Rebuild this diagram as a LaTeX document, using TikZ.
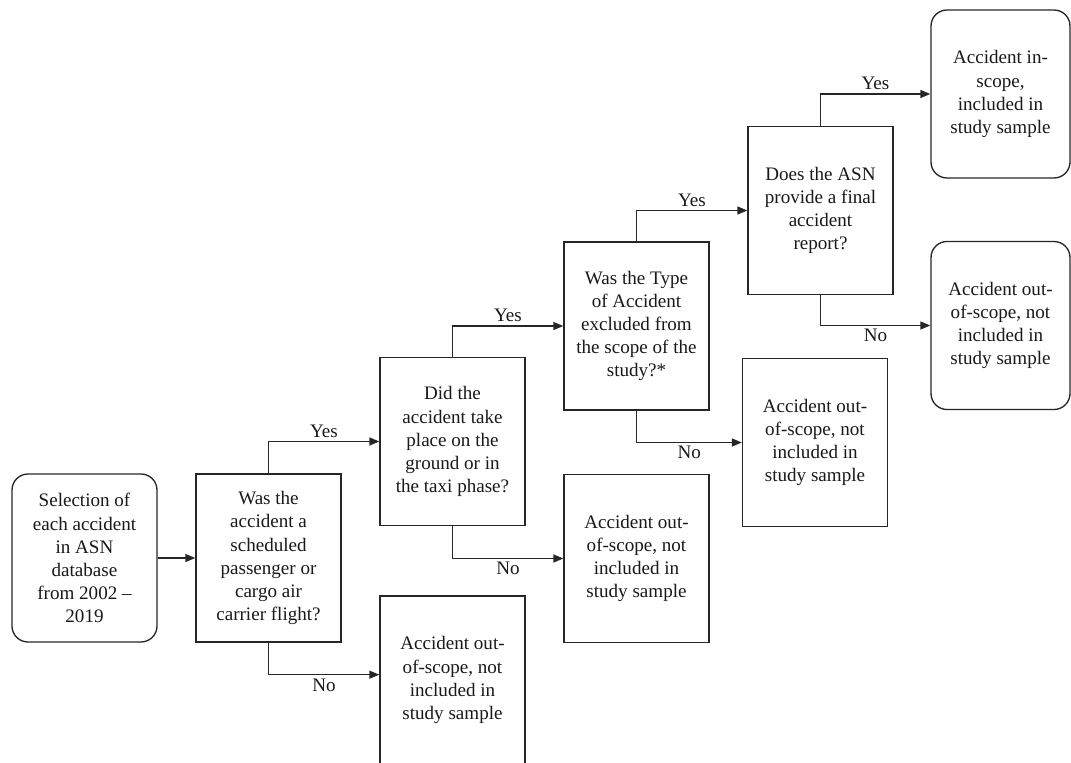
\documentclass[tikz,border=0pt]{standalone}
\usepackage{fontspec}
\setmainfont{Liberation Serif}
\usetikzlibrary{arrows.meta}
\begin{document}
\begin{tikzpicture}[x=0.75pt,y=-0.75pt,
  box/.style={draw=black!85,line width=1pt,minimum width=108.75pt,minimum height=126pt,inner sep=0pt,align=center,text=black!90,font=\fontsize{14.3}{17.3}\selectfont},
  rbox/.style={box,rounded corners=12pt},
  conn/.style={draw=black!85,line width=1pt,-{Triangle[length=7.5pt,width=6pt]}},
  lab/.style={font=\fontsize{14.3}{17.3}\selectfont,text=black!90,inner sep=2.5pt}]
\useasboundingbox (0,0) rectangle (1071,763);
\node[rbox] (start) at (84.5,558) {Selection of\\each accident\\in ASN\\database\\from 2002 --\\2019};
\node[box] (q1) at (268.5,558) {Was the\\accident a\\scheduled\\passenger or\\cargo air\\carrier flight?};
\node[box] (out1) at (452.5,680) {Accident out-\\of-scope, not\\included in\\study sample};
\node[box] (q2) at (452.5,441.5) {Did the\\accident take\\place on the\\ground or in\\the taxi phase?};
\node[box] (out2) at (636.5,558.5) {Accident out-\\of-scope, not\\included in\\study sample};
\node[box] (q3) at (636.5,326) {Was the Type\\of Accident\\excluded from\\the scope of the\\study?*};
\node[box] (out3) at (815,442.5) {Accident out-\\of-scope, not\\included in\\study sample};
\node[box] (q4) at (820.5,210.5) {Does the ASN\\provide a final\\accident\\report?};
\node[rbox,minimum width=104.25pt] (end1) at (1000.5,94) {Accident in-\\scope,\\included in\\study sample};
\node[rbox,minimum width=104.25pt] (end2) at (1000.5,325.5) {Accident out-\\of-scope, not\\included in\\study sample};
\draw[conn] (start) -- (q1);
\draw[conn] (q1.north) |- node[lab,pos=0.75,above] {Yes} (q2.west);
\draw[conn] (q1.south) |- node[lab,pos=0.75,below] {No} ([yshift=4pt]out1.west);
\draw[conn] (q2.north) |- node[lab,pos=0.75,above] {Yes} (q3.west);
\draw[conn] (q2.south) |- node[lab,pos=0.75,below] {No} (out2.west);
\draw[conn] (q3.north) |- node[lab,pos=0.75,above] {Yes} (q4.west);
\draw[conn] (q3.south) |- node[lab,pos=0.75,below] {No} (out3.west);
\draw[conn] (q4.north) |- node[lab,pos=0.75,above] {Yes} (end1.west);
\draw[conn] (q4.south) |- node[lab,pos=0.75,below] {No} (end2.west);
\end{tikzpicture}
\end{document}
